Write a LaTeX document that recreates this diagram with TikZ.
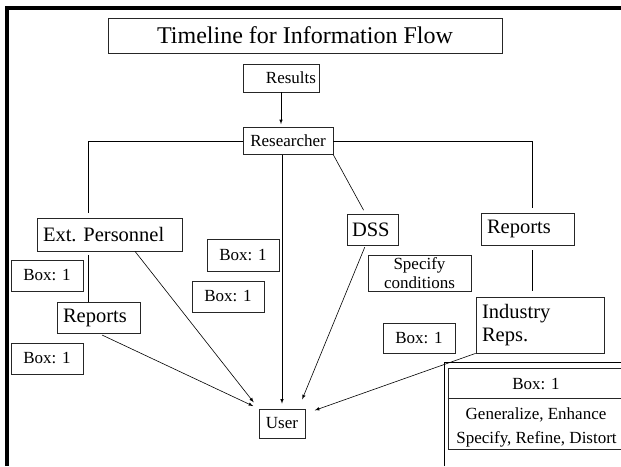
\documentclass[tikz,border=0pt]{standalone}
\usepackage{fontspec}
\setmainfont{Liberation Serif}

\begin{document}
\begin{tikzpicture}[x=1pt,y=1pt]
\tikzstyle{every node}+=[inner sep=0pt]
\tikzstyle{box}=[draw=black!85, line width=0.7pt, font=\fontsize{17}{18.5}\selectfont]
\tikzstyle{bigbox}=[box, font=\fontsize{20.5}{23}\selectfont, align=left, inner xsep=6pt]
\tikzstyle{link}=[black, line width=0.6pt]
\tikzstyle{flow}=[link, -latex]
\useasboundingbox (0,0) rectangle (621,-466);
\draw [black, line width=3.5pt] (7,-466) -- (7,-8) -- (621,-8);
\node [box, font=\fontsize{24}{26}\selectfont, minimum width=394pt, minimum height=35pt] (title) at (305,-35.5) {Timeline for Information Flow};
\node [box, text width=70pt, align=right, inner xsep=3pt, minimum height=28pt] (results) at (281,-78) {Results};
\node [box, minimum width=90pt, minimum height=27pt] (res) at (288,-141) {Researcher};
\node [bigbox, text width=133pt, minimum height=33pt] (ext) at (109.5,-234.5) {Ext.\ Personnel};
\node [box, minimum width=72pt, minimum height=31pt] (boxa) at (47,-275.5) {Box: 1};
\node [bigbox, text width=71pt, minimum height=31pt] (repl) at (98.5,-317.5) {Reports};
\node [box, minimum width=72pt, minimum height=31pt] (boxb) at (47,-358.5) {Box: 1};
\node [box, minimum width=72pt, minimum height=32pt] (boxc) at (243,-255) {Box: 1};
\node [box, minimum width=72pt, minimum height=31pt] (boxd) at (228,-296.5) {Box: 1};
\node [box, minimum width=46pt, minimum height=29pt] (user) at (282,-423.5) {User};
\node [bigbox, text width=41pt, inner xsep=5pt, minimum height=31pt] (dss) at (372.5,-229.5) {DSS};
\node [box, align=center, minimum width=103pt, minimum height=36pt] (spec) at (419.5,-273) {Specify\\conditions};
\node [bigbox, text width=81pt, minimum height=32pt] (repr) at (527.5,-229) {Reports};
\node [bigbox, text width=116pt, minimum height=56pt] (ind) at (540,-325) {Industry\\Reps.};
\node [box, minimum width=72pt, minimum height=30pt] (boxe) at (419,-338) {Box: 1};
\draw [link] (444,-466) -- (444,-362) -- (621,-362);
\node [box, minimum width=175pt, minimum height=81pt] (legend) at (535.5,-408.5) {};
\coordinate (legdiv) at (0,-398);
\draw [box] (legend.west |- legdiv) -- (legend.east |- legdiv);
\node [font=\fontsize{17}{18.5}\selectfont] (lega) at (536,-384) {Box: 1};
\node [font=\fontsize{17}{18.5}\selectfont] (legb) at (536,-415) {Generalize, Enhance};
\node [font=\fontsize{17}{18.5}\selectfont] (legc) at (536.5,-439) {Specify, Refine, Distort};
\coordinate (lc) at (88,-141);
\coordinate (rc) at (532,-141);
\draw [flow, shorten >=3pt] (results.south) -- (results.south |- res.north);
\draw [link, shorten >=5pt] (res.west) -- (lc) -- (lc |- ext.north);
\draw [link, shorten >=5pt] (res.east) -- (rc) -- (rc |- repr.north);
\draw [link, shorten <=4pt] (lc |- ext.south) -- (lc |- repl.north);
\draw [link, shorten <=5pt, shorten >=6pt] (rc |- repr.south) -- (rc |- ind.north);
\draw [link, shorten >=4pt] (res.south east) -- ([xshift=-7pt]dss.north);
\draw [flow, shorten >=5pt] (res.south -| user.north) -- (user.north);
\draw [flow, shorten >=8pt] ([xshift=25.5pt]ext.south) -- (user.north west);
\draw [flow, shorten <=4pt, shorten >=6pt] (repl.south) -- (user.north west);
\draw [flow, shorten <=2pt, shorten >=10pt] ([xshift=-7pt]dss.south) -- ([xshift=-7pt]user.north east);
\draw [flow, shorten >=10pt] (ind.south west) -- ([yshift=-5pt]user.north east);
\end{tikzpicture}
\end{document}
